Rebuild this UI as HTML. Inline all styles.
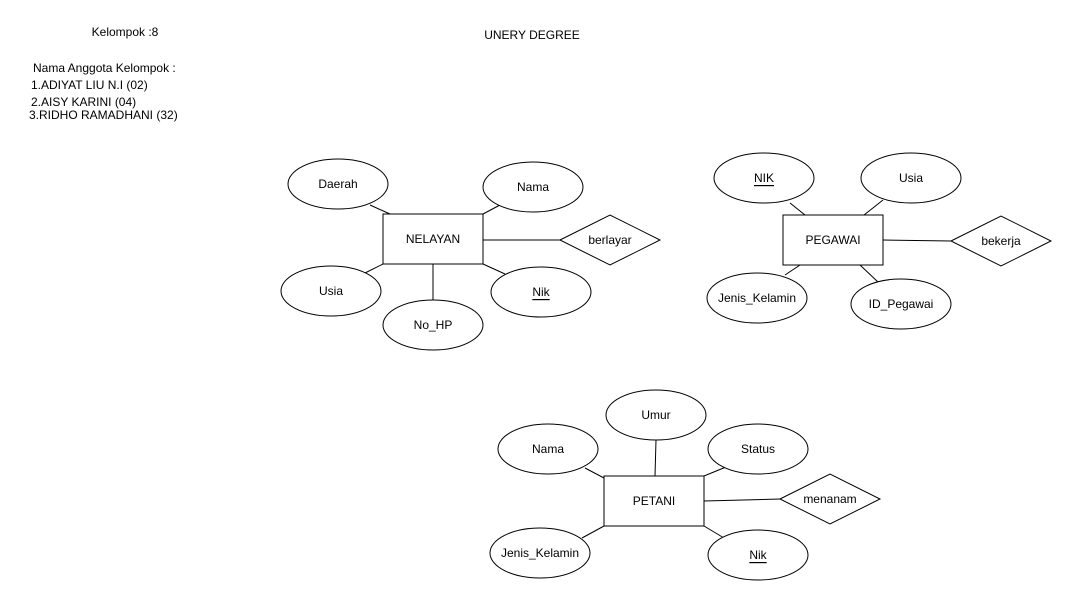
<!DOCTYPE html>
<html><head><style>body{margin:0;background:#fff}svg{display:block}text{font-family:"Liberation Sans",sans-serif;font-size:12px;fill:#000}</style></head>
<body>
<svg width="1077" height="608" viewBox="0 0 1077 608" xmlns="http://www.w3.org/2000/svg">
<g stroke="#000" stroke-width="1" fill="#fff">
<line x1="370" y1="205" x2="390" y2="214"/>
<line x1="483" y1="214" x2="500" y2="205"/>
<line x1="483" y1="240" x2="560" y2="240"/>
<line x1="383" y1="264" x2="365" y2="273"/>
<line x1="433" y1="264" x2="433" y2="300"/>
<line x1="483" y1="264" x2="505" y2="274"/>
<line x1="790" y1="203" x2="805" y2="215"/>
<line x1="864" y1="215" x2="883" y2="200"/>
<line x1="883" y1="240" x2="951" y2="241"/>
<line x1="800" y1="265" x2="785" y2="275"/>
<line x1="860" y1="265" x2="878" y2="282"/>
<line x1="656" y1="440" x2="655" y2="476"/>
<line x1="585" y1="468" x2="604" y2="478"/>
<line x1="726" y1="467" x2="704" y2="476"/>
<line x1="704" y1="501" x2="780" y2="499"/>
<line x1="604" y1="526" x2="582" y2="538"/>
<line x1="704" y1="526" x2="724" y2="538"/>
<ellipse cx="338" cy="184" rx="50" ry="25"/>
<ellipse cx="533" cy="187" rx="50" ry="25"/>
<polygon points="560,240 610,215 660,240 610,265"/>
<ellipse cx="331" cy="291" rx="50" ry="25"/>
<ellipse cx="433" cy="325" rx="50" ry="25"/>
<ellipse cx="541" cy="292" rx="50" ry="25"/>
<rect x="383" y="214" width="100" height="50"/>
<ellipse cx="764" cy="178" rx="50" ry="25"/>
<ellipse cx="911" cy="178" rx="50" ry="25"/>
<polygon points="951,241 1001,216 1051,241 1001,266"/>
<ellipse cx="757" cy="298" rx="50" ry="25"/>
<ellipse cx="901" cy="304" rx="50" ry="25"/>
<rect x="783" y="215" width="100" height="50"/>
<ellipse cx="656" cy="415" rx="50" ry="25"/>
<ellipse cx="548" cy="449" rx="50" ry="25"/>
<ellipse cx="758" cy="449" rx="50" ry="25"/>
<polygon points="780,499 830,474 880,499 830,524"/>
<ellipse cx="540" cy="553" rx="50" ry="25"/>
<ellipse cx="758" cy="555" rx="50" ry="25"/>
<rect x="604" y="476" width="100" height="50"/>
</g>
<g text-anchor="middle" dominant-baseline="central">
<text x="338" y="184">Daerah</text>
<text x="533" y="187">Nama</text>
<text x="610" y="240">berlayar</text>
<text x="331" y="291">Usia</text>
<text x="433" y="325">No_HP</text>
<text x="541" y="292" text-decoration="underline">Nik</text>
<text x="433" y="239">NELAYAN</text>
<text x="764" y="178" text-decoration="underline">NIK</text>
<text x="911" y="178">Usia</text>
<text x="1001" y="241">bekerja</text>
<text x="757" y="298">Jenis_Kelamin</text>
<text x="901" y="304">ID_Pegawai</text>
<text x="833" y="240">PEGAWAI</text>
<text x="656" y="415">Umur</text>
<text x="548" y="449">Nama</text>
<text x="758" y="449">Status</text>
<text x="830" y="499">menanam</text>
<text x="540" y="553">Jenis_Kelamin</text>
<text x="758" y="555" text-decoration="underline">Nik</text>
<text x="654" y="501">PETANI</text>
<text x="125" y="32">Kelompok :8</text>
<text x="532" y="35">UNERY DEGREE</text>
</g>
<text x="33" y="72">Nama Anggota Kelompok :</text>
<text x="31" y="89">1.ADIYAT LIU N.I (02)</text>
<text x="31" y="106">2.AISY KARINI (04)</text>
<text x="29" y="119">3.RIDHO RAMADHANI (32)</text>
</svg>
</body></html>
